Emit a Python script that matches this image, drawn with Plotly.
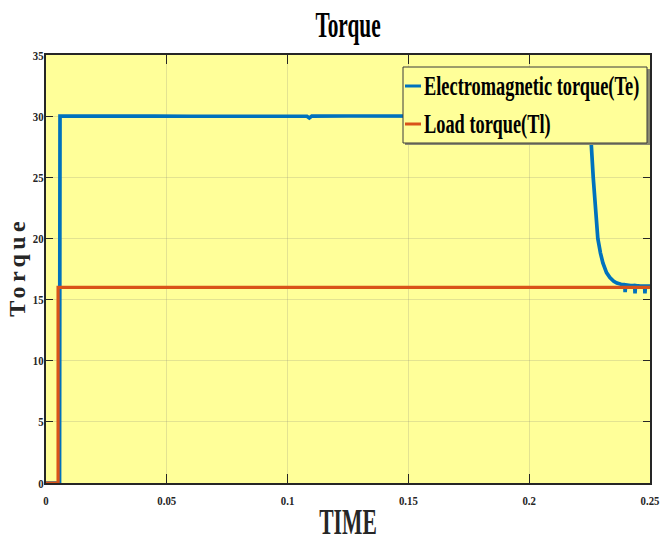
import plotly.graph_objects as go

# Electromagnetic torque Te (N·m) against time (s)
te_time = [0.0, 0.0056, 0.0058, 0.012, 0.020, 0.031, 0.032, 0.045, 0.060, 0.075,
           0.090, 0.108, 0.109, 0.110, 0.125, 0.140, 0.160, 0.180, 0.200, 0.215,
           0.2245, 0.2250, 0.2256, 0.2265, 0.2275, 0.2284, 0.2295, 0.2305, 0.2320, 0.2334,
           0.2350, 0.2363, 0.2380, 0.2396, 0.2397, 0.2399, 0.2420, 0.2437, 0.2438, 0.2440,
           0.2460, 0.2478, 0.2479, 0.2481, 0.2500]
te_vals = [0.0, 0.0, 30.0, 29.99, 30.01, 30.03, 29.99, 30.0, 29.99, 30.01,
           30.0, 29.99, 29.85, 30.0, 30.01, 29.99, 30.01, 30.0, 30.01, 29.99,
           30.0, 29.2, 28.0, 25.0, 22.4, 20.0, 18.8, 18.0, 17.2, 16.8,
           16.5, 16.35, 16.25, 16.2, 15.6, 16.2, 16.15, 16.15, 15.5, 16.15,
           16.1, 16.1, 15.5, 16.1, 16.1]

# Load torque Tl (step applied at 5 ms)
tl_time = [0.0, 0.005, 0.005, 0.25]
tl_vals = [0.0, 0.0, 16.0, 16.0]

series_names = ["Electromagnetic torque(Te)", "Load torque(Tl)"]
series_colors = ["#0072BD", "#D95319"]

x_ticks = [0, 0.05, 0.1, 0.15, 0.2, 0.25]
x_ticktext = ["0", "0.05", "0.1", "0.15", "0.2", "0.25"]
y_ticks = [0, 5, 10, 15, 20, 25, 30, 35]

W, H = 660, 547
ML, MR, MT, MB = 46, 10, 55, 64
PW, PH = W - ML - MR, H - MT - MB

SERIF = "Liberation Serif"
YELLOW = "#FFFF99"
INK = "#262626"


def px(xp):
    return (xp - ML) / PW


def py(yp):
    return (H - MB - yp) / PH


fig = go.Figure()
fig.add_trace(go.Scatter(x=te_time, y=te_vals, mode="lines", name=series_names[0],
                         line=dict(color=series_colors[0], width=3.7), showlegend=False))
fig.add_trace(go.Scatter(x=tl_time, y=tl_vals, mode="lines", name=series_names[1],
                         line=dict(color=series_colors[1], width=3.2), showlegend=False))

axis_common = dict(
    showline=True, linecolor=INK, linewidth=1.5, mirror="ticks",
    ticks="inside", tickcolor=INK, tickwidth=1.2,
    showgrid=True, gridcolor="rgba(140,140,120,0.24)", gridwidth=1,
    zeroline=False, automargin=False, ticklabeloverflow="allow",
    tickfont=dict(family=SERIF, size=13, color=INK, weight="bold"),
)

fig.update_xaxes(range=[0, 0.25], tickvals=x_ticks, ticktext=x_ticktext, ticklen=9,
                 title=dict(text="TIME", standoff=6,
                            font=dict(family=SERIF, size=36, color=INK, weight="bold")),
                 **axis_common)
fig.update_yaxes(range=[0, 35], tickvals=y_ticks, ticklen=7,
                 title=dict(text="Torque", standoff=0,
                            font=dict(family=SERIF, size=24, color=INK, weight="bold")),
                 **axis_common)

# Legend box drawn as shapes, with a small drop shadow
LEG_TEXT_LEFT = 424
shapes = [
    dict(type="rect", xref="paper", yref="paper", x0=px(405), x1=px(650), y0=py(145), y1=py(69),
         fillcolor="#8a8a70", line=dict(width=0), layer="above"),
    dict(type="rect", xref="paper", yref="paper", x0=px(403), x1=px(647), y0=py(143), y1=py(67),
         fillcolor=YELLOW, line=dict(color="#3a3a3a", width=1), layer="above"),
]
annotations = []
for name, color, yrow in zip(series_names, series_colors, [86, 124]):
    shapes.append(dict(type="line", xref="paper", yref="paper", x0=px(405), x1=px(421),
                       y0=py(yrow), y1=py(yrow), line=dict(color=color, width=3), layer="above"))
    annotations.append(dict(text=name, xref="paper", yref="paper", x=px(655), y=py(yrow),
                            xanchor="right", yanchor="middle", showarrow=False,
                            font=dict(family=SERIF, size=27, color="black", weight="bold")))

fig.update_layout(
    width=W, height=H,
    margin=dict(l=ML, r=MR, t=MT, b=MB, pad=0),
    paper_bgcolor="white", plot_bgcolor=YELLOW,
    title=dict(text="Torque", x=0.5, xref="paper", xanchor="center",
               y=1 - 25 / H, yref="container", yanchor="middle",
               font=dict(family=SERIF, size=35, color="black", weight="bold")),
    shapes=shapes, annotations=annotations,
    showlegend=False,
)

# Times-style condensed lettering: narrow each label horizontally about its anchor point;
# legend entries are then lined up just right of their key lines.
post = """
var gd = document.getElementById('{plot_id}');
var svg = gd.querySelector('svg.main-svg');
function condense(sel, k) {
  gd.querySelectorAll(sel).forEach(function (el) {
    var x = parseFloat(el.getAttribute('x') || 0);
    var y = parseFloat(el.getAttribute('y') || 0);
    var t = el.getAttribute('transform') || '';
    el.setAttribute('transform', t + ' translate(' + x + ',' + y + ') scale(' + k + ',1) translate(' + (-x) + ',' + (-y) + ')');
  });
}
function shift(el, dx, dy) {
  var t = el.getAttribute('transform') || '';
  el.setAttribute('transform', 'translate(' + dx.toFixed(1) + ',' + dy.toFixed(1) + ') ' + t);
}
function nudge(sel, dx, dy) {
  gd.querySelectorAll(sel).forEach(function (el) { shift(el, dx, dy); });
}
condense('text.gtitle', 0.61);
condense('text.xtitle', 0.60);
condense('g.xtick text, g.ytick text', 0.83);
condense('text.annotation-text', 0.68);
gd.querySelectorAll('text.ytitle').forEach(function (el) {
  var w = el.getComputedTextLength();
  el.setAttribute('lengthAdjust', 'spacing');
  el.setAttribute('textLength', (w * 1.30).toFixed(1));
});
nudge('g.xtick text', 0, 5);
nudge('g.ytick text', 2, 0);
nudge('text.ytitle', 4, 0);
var left0 = svg.getBoundingClientRect().left + %d;
gd.querySelectorAll('text.annotation-text').forEach(function (el) {
  shift(el, left0 - el.getBoundingClientRect().left, 0);
});
""" % LEG_TEXT_LEFT

fig.write_html("out.html", post_script=post)
